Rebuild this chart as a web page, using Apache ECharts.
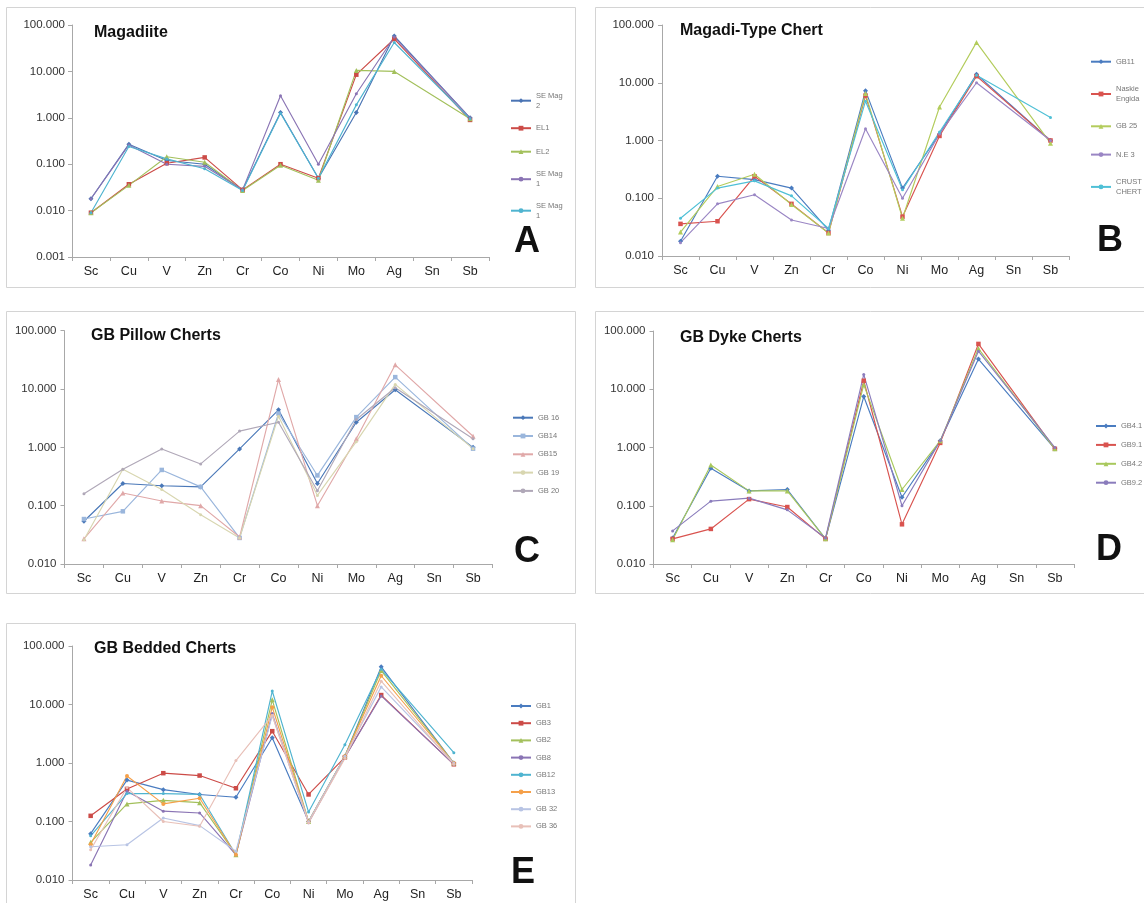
<!DOCTYPE html>
<html>
<head>
<meta charset="utf-8">
<script src="https://cdn.jsdelivr.net/npm/echarts@6/dist/echarts.min.js"></script>
<style>
  html, body { margin: 0; padding: 0; background: #ffffff; }
  #chart { width: 1144px; height: 903px; }
</style>
</head>
<body>
<div id="chart"></div>
<script>
// Elements on the x axis (Sn has no analyses; lines bridge across it)
const CATEGORIES = ['Sc', 'Cu', 'V', 'Zn', 'Cr', 'Co', 'Ni', 'Mo', 'Ag', 'Sn', 'Sb'];

// A — Magadiite
const A_SE_MAG_2  = [0.018, 0.27, 0.12, 0.10, 0.028, 1.3, 0.05, 1.3, 58, null, 1.0];
const A_EL1       = [0.009, 0.037, 0.105, 0.14, 0.028, 0.10, 0.05, 8.5, 50, null, 0.9];
const A_EL2       = [0.009, 0.035, 0.145, 0.11, 0.027, 0.095, 0.045, 10.5, 10, null, 0.95];
const A_SE_MAG_1a = [0.018, 0.26, 0.10, 0.09, 0.028, 3.0, 0.10, 3.3, 55, null, 1.0];
const A_SE_MAG_1b = [0.009, 0.24, 0.13, 0.08, 0.027, 1.25, 0.05, 1.9, 42, null, 0.95];

// B — Magadi-Type Chert
const B_GB11   = [0.018, 0.24, 0.21, 0.15, 0.028, 7.3, 0.15, 1.3, 14, null, 1.0];
const B_NASKIE = [0.036, 0.04, 0.24, 0.08, 0.025, 6.0, 0.048, 1.2, 13, null, 1.0];
const B_GB25   = [0.026, 0.16, 0.26, 0.078, 0.025, 6.5, 0.045, 3.8, 50, null, 0.9];
const B_NE3    = [0.017, 0.08, 0.115, 0.042, 0.03, 1.6, 0.10, 1.3, 10, null, 1.0];
const B_CRUST  = [0.045, 0.15, 0.20, 0.11, 0.03, 4.8, 0.14, 1.4, 13.5, null, 2.5];

// C — GB Pillow Cherts
const C_GB16 = [0.054, 0.24, 0.22, 0.21, 0.94, 4.4, 0.24, 2.7, 9.7, null, 1.0];
const C_GB14 = [0.059, 0.08, 0.41, 0.21, 0.028, 3.8, 0.33, 3.3, 16, null, 0.95];
const C_GB15 = [0.027, 0.165, 0.12, 0.10, 0.029, 14.5, 0.10, 1.4, 26, null, 1.55];
const C_GB19 = [0.026, 0.42, 0.19, 0.07, 0.028, 3.4, 0.15, 1.25, 12, null, 0.95];
const C_GB20 = [0.16, 0.42, 0.94, 0.52, 1.9, 2.7, 0.18, 3.0, 10.5, null, 1.4];

// D — GB Dyke Cherts
const D_GB41 = [0.028, 0.44, 0.18, 0.19, 0.027, 7.5, 0.14, 1.3, 33, null, 0.95];
const D_GB91 = [0.027, 0.04, 0.13, 0.095, 0.027, 14, 0.048, 1.2, 60, null, 0.95];
const D_GB42 = [0.026, 0.50, 0.18, 0.18, 0.027, 12, 0.19, 1.3, 50, null, 0.95];
const D_GB92 = [0.037, 0.12, 0.135, 0.085, 0.028, 18, 0.10, 1.3, 45, null, 1.0];

// E — GB Bedded Cherts
const E_GB1  = [0.062, 0.51, 0.35, 0.29, 0.26, 2.7, 0.10, 1.3, 44, null, 1.0];
const E_GB3  = [0.125, 0.36, 0.67, 0.61, 0.37, 3.5, 0.29, 1.25, 14.5, null, 0.95];
const E_GB2  = [0.044, 0.20, 0.23, 0.21, 0.027, 12, 0.10, 1.3, 38, null, 1.0];
const E_GB8  = [0.018, 0.33, 0.15, 0.14, 0.027, 7.0, 0.095, 1.25, 14, null, 0.95];
const E_GB12 = [0.057, 0.30, 0.30, 0.29, 0.027, 17, 0.145, 2.05, 40, null, 1.5];
const E_GB13 = [0.041, 0.60, 0.20, 0.25, 0.027, 9.0, 0.10, 1.3, 31, null, 1.0];
const E_GB32 = [0.037, 0.04, 0.115, 0.085, 0.031, 6.5, 0.10, 1.3, 20, null, 1.0];
const E_GB36 = [0.033, 0.38, 0.10, 0.083, 1.1, 6.5, 0.095, 1.2, 25, null, 0.95];

const PANELS = [
  { title: 'Magadiite', letter: 'A', min: 0.001, max: 100,
    series: [['SE Mag 2', A_SE_MAG_2], ['EL1', A_EL1], ['EL2', A_EL2], ['SE Mag 1', A_SE_MAG_1a], ['SE Mag 1 ', A_SE_MAG_1b]],
    colors: ['#4a74b4', '#cc4b47', '#a3c05c', '#8a74b4', '#4fb4d0'] },
  { title: 'Magadi-Type Chert', letter: 'B', min: 0.01, max: 100,
    series: [['GB11', B_GB11], ['Naskie Engida', B_NASKIE], ['GB 25', B_GB25], ['N.E 3', B_NE3], ['CRUST CHERT', B_CRUST]],
    colors: ['#4a7cc0', '#d9534f', '#b3cc5c', '#9a86c4', '#4fc0d6'] },
  { title: 'GB Pillow Cherts', letter: 'C', min: 0.01, max: 100,
    series: [['GB 16', C_GB16], ['GB14', C_GB14], ['GB15', C_GB15], ['GB 19', C_GB19], ['GB 20', C_GB20]],
    colors: ['#4a78b8', '#9ab6dc', '#e0a8a8', '#d8d6b0', '#b0a8b8'] },
  { title: 'GB Dyke Cherts', letter: 'D', min: 0.01, max: 100,
    series: [['GB4.1', D_GB41], ['GB9.1', D_GB91], ['GB4.2', D_GB42], ['GB9.2', D_GB92]],
    colors: ['#4a7cc0', '#d9534f', '#a8c85c', '#8a7cbc'] },
  { title: 'GB Bedded Cherts', letter: 'E', min: 0.01, max: 100,
    series: [['GB1', E_GB1], ['GB3', E_GB3], ['GB2', E_GB2], ['GB8', E_GB8], ['GB12', E_GB12], ['GB13', E_GB13], ['GB 32', E_GB32], ['GB 36', E_GB36]],
    colors: ['#4a7cc0', '#cc4b47', '#a3c05c', '#8a74b4', '#4fb4d0', '#f5a04a', '#b8c4e4', '#e8c0b8'] }
];

// Placement of each panel on the page
const LAYOUT = [
  { frame: [6.5, 7.5, 569, 280], grid: [72, 25, 417, 232], title: [94, 24], letter: [514, 224], legend: [510, 91.7, 13.5], labelMargin: 7 },
  { frame: [595.5, 7.5, 560, 280], grid: [662, 25, 407, 231], title: [680, 22], letter: [1097, 223.5], legend: [1090, 56.7, 18.3], labelMargin: 8 },
  { frame: [6.5, 311.5, 569, 282], grid: [64.5, 330.7, 428, 233.3], title: [91, 327], letter: [514, 534], legend: [512, 412.7, 8.3], labelMargin: 8 },
  { frame: [595.5, 311.5, 560, 282], grid: [653.5, 331, 420.5, 233], title: [680, 329], letter: [1096, 532], legend: [1095, 421, 8.9], labelMargin: 8 },
  { frame: [6.5, 623.5, 569, 300], grid: [72.5, 646, 399.5, 234], title: [94, 640], letter: [511, 855], legend: [510, 701, 7.2], labelMargin: 8 }
];

const SYMBOLS = ['diamond', 'rect', 'triangle', 'circle', 'circle', 'circle', 'circle', 'circle'];
const SYMBOL_SIZES = [5, 4.5, 5, 3, 3, 4, 3, 3];
const FONT = '"Liberation Sans", Arial, Helvetica, sans-serif';

const option = {
  backgroundColor: '#ffffff',
  animation: false,
  textStyle: { fontFamily: FONT },
  title: [],
  grid: [],
  xAxis: [],
  yAxis: [],
  legend: [],
  series: [],
  graphic: []
};

PANELS.forEach((p, i) => {
  const L = LAYOUT[i];
  option.graphic.push({
    type: 'rect', silent: true, z: -1,
    shape: { x: L.frame[0], y: L.frame[1], width: L.frame[2], height: L.frame[3] },
    style: { fill: 'none', stroke: '#d4d4d4', lineWidth: 1 }
  });
  option.title.push({
    text: p.title, left: L.title[0], top: L.title[1], padding: 0,
    textStyle: { fontFamily: FONT, fontSize: 16, fontWeight: 'bold', color: '#111111', lineHeight: 18 }
  });
  option.title.push({
    text: p.letter, left: L.letter[0], top: L.letter[1], padding: 0,
    textStyle: { fontFamily: FONT, fontSize: 36, fontWeight: 'bold', color: '#111111', lineHeight: 36 }
  });
  option.grid.push({
    left: L.grid[0], top: L.grid[1], width: L.grid[2], height: L.grid[3],
    containLabel: false, outerBoundsMode: 'none'
  });
  option.xAxis.push({
    type: 'category', gridIndex: i, data: CATEGORIES, boundaryGap: true,
    axisLine: { show: true, lineStyle: { color: '#a8a8a8', width: 1 } },
    axisTick: { show: true, length: 4, lineStyle: { color: '#a8a8a8' } },
    axisLabel: { fontFamily: FONT, fontSize: 12.5, color: '#222222', margin: 8 },
    splitLine: { show: false }
  });
  const decades = Math.round(Math.log10(p.max / p.min));
  option.yAxis.push({
    type: 'log', logBase: 10, gridIndex: i, min: p.min, max: p.max, splitNumber: decades,
    axisLine: { show: true, lineStyle: { color: '#a8a8a8', width: 1 } },
    axisTick: { show: true, length: 4, lineStyle: { color: '#a8a8a8' } },
    minorTick: { show: false },
    splitLine: { show: false },
    axisLabel: {
      fontFamily: FONT, fontSize: 11.5, color: '#333333', margin: L.labelMargin,
      formatter: v => Number(v).toFixed(3)
    }
  });
  option.legend.push({
    orient: 'vertical', left: L.legend[0], top: L.legend[1], itemGap: L.legend[2],
    padding: 0, itemWidth: 20, itemHeight: 6, selectedMode: false,
    data: p.series.map(s => s[0]),
    textStyle: {
      fontFamily: FONT, fontSize: 7.5, color: '#777777',
      lineHeight: 10, height: 10, width: 29, overflow: 'break'
    }
  });
  p.series.forEach((s, k) => {
    option.series.push({
      type: 'line', name: s[0], xAxisIndex: i, yAxisIndex: i,
      data: s[1], connectNulls: true,
      symbol: SYMBOLS[k], symbolSize: SYMBOL_SIZES[k],
      color: p.colors[k],
      lineStyle: { width: 1.15, color: p.colors[k] },
      itemStyle: { color: p.colors[k] },
      emphasis: { disabled: true }
    });
  });
});

const chart = echarts.init(document.getElementById('chart'), null, { renderer: 'canvas' });
chart.setOption(option);
</script>
</body>
</html>
